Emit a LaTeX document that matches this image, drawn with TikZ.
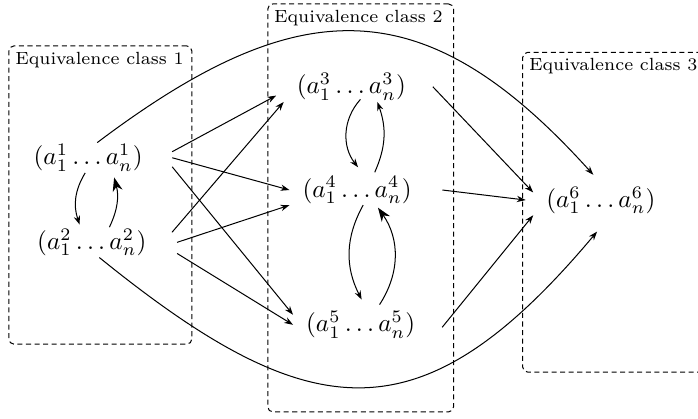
\documentclass[tikz,border=0pt]{standalone}
\usepackage{amsmath}
\usetikzlibrary{arrows.meta}

\begin{document}
\begin{tikzpicture}[
  tuple/.style={inner xsep=5pt, inner ysep=0.5pt},
  classbox/.style={draw, dash pattern=on 2pt off 1.4pt, rounded corners=2pt},
  classlabel/.style={anchor=north west, inner sep=2.5pt, font=\scriptsize},
  link/.style={-{Stealth[length=3.5pt, width=2.5pt]}},
  biglink/.style={-{Stealth[length=5.5pt, width=4pt]}}
]
  \clip (0,0) rectangle (9.735,-5.830);

  % equivalence classes
  \node[classbox, minimum width=2.55cm, minimum height=4.16cm] (C1) at (1.40,-2.72) {};
  \node[classbox, minimum width=2.59cm, minimum height=5.69cm] (C2) at (5.03,-2.90) {};
  \node[classbox, minimum width=3.40cm, minimum height=4.46cm] (C3) at (8.99,-2.96) {};
  \node[classlabel] (L1) at (C1.north west) {Equivalence class 1};
  \node[classlabel] (L2) at (C2.north west) {Equivalence class 2};
  \node[classlabel] (L3) at (C3.north west) {Equivalence class 3};

  % tuples
  \node[tuple] (a1) at (1.23,-2.20) {$(a_1^1\ldots a_n^1)$};
  \node[tuple] (a2) at (1.28,-3.38) {$(a_1^2\ldots a_n^2)$};
  \node[tuple] (a3) at (4.90,-1.21) {$(a_1^3\ldots a_n^3)$};
  \node[tuple] (a4) at (4.98,-2.65) {$(a_1^4\ldots a_n^4)$};
  \node[tuple] (a5) at (5.03,-4.53) {$(a_1^5\ldots a_n^5)$};
  \node[tuple] (a6) at (8.38,-2.79) {$(a_1^6\ldots a_n^6)$};

  % inside a class
  \draw[link] ([xshift=-1.2pt]a1.south) to[bend right=25] ([xshift=-4.8pt,yshift=1pt]a2.north);
  \draw[biglink] ([xshift=7pt]a2.north) to[bend right=20] ([xshift=10.3pt,yshift=-1.8pt]a1.south);
  \draw[link] ([xshift=3.6pt,yshift=1pt]a3.south) to[bend right=40] ([xshift=0.4pt,yshift=3pt]a4.north);
  \draw[link] ([xshift=7pt,yshift=1pt]a4.north) to[bend right=22] ([xshift=10.3pt]a3.south);
  \draw[link] ([xshift=2.4pt]a4.south) to[bend right=28] ([xshift=0.4pt,yshift=4pt]a5.north);
  \draw[biglink] ([xshift=7.5pt,yshift=2pt]a5.north) to[bend right=34] ([xshift=8.3pt,yshift=-1pt]a4.south);

  % class 1 to class 2
  \draw[link] ([xshift=6.5pt,yshift=2.4pt]a1.east) -- ([xshift=-3pt,yshift=-3.5pt]a3.west);
  \draw[link] ([xshift=6.5pt]a1.east) -- (a4.west);
  \draw[link] ([xshift=6.5pt,yshift=-3.6pt]a1.east) -- ([yshift=4pt]a5.west);
  \draw[link] ([xshift=5pt,yshift=4pt]a2.east) -- (a3.south west);
  \draw[link] ([xshift=7pt]a2.east) -- (a4.south west);
  \draw[link] ([xshift=7pt,yshift=-4.4pt]a2.east) -- (a5.west);

  % class 2 to class 3
  \draw[link] ([xshift=5.5pt]a3.east) -- ([yshift=3pt]a6.west);
  \draw[link] ([xshift=7pt]a4.east) -- ([xshift=-3pt]a6.west);
  \draw[link] ([xshift=5.5pt,yshift=-1pt]a5.east) -- (a6.south west);

  % class 1 to class 3
  \draw[link] ([xshift=3.6pt]a1.north) to[out=37, in=132, looseness=1.3] ([xshift=-3pt,yshift=4pt]a6.north);
  \draw[link] ([xshift=3pt]a2.south) to[out=-39, in=-130, looseness=1.4] ([xshift=-1.5pt,yshift=-6.5pt]a6.south);
\end{tikzpicture}
\end{document}
